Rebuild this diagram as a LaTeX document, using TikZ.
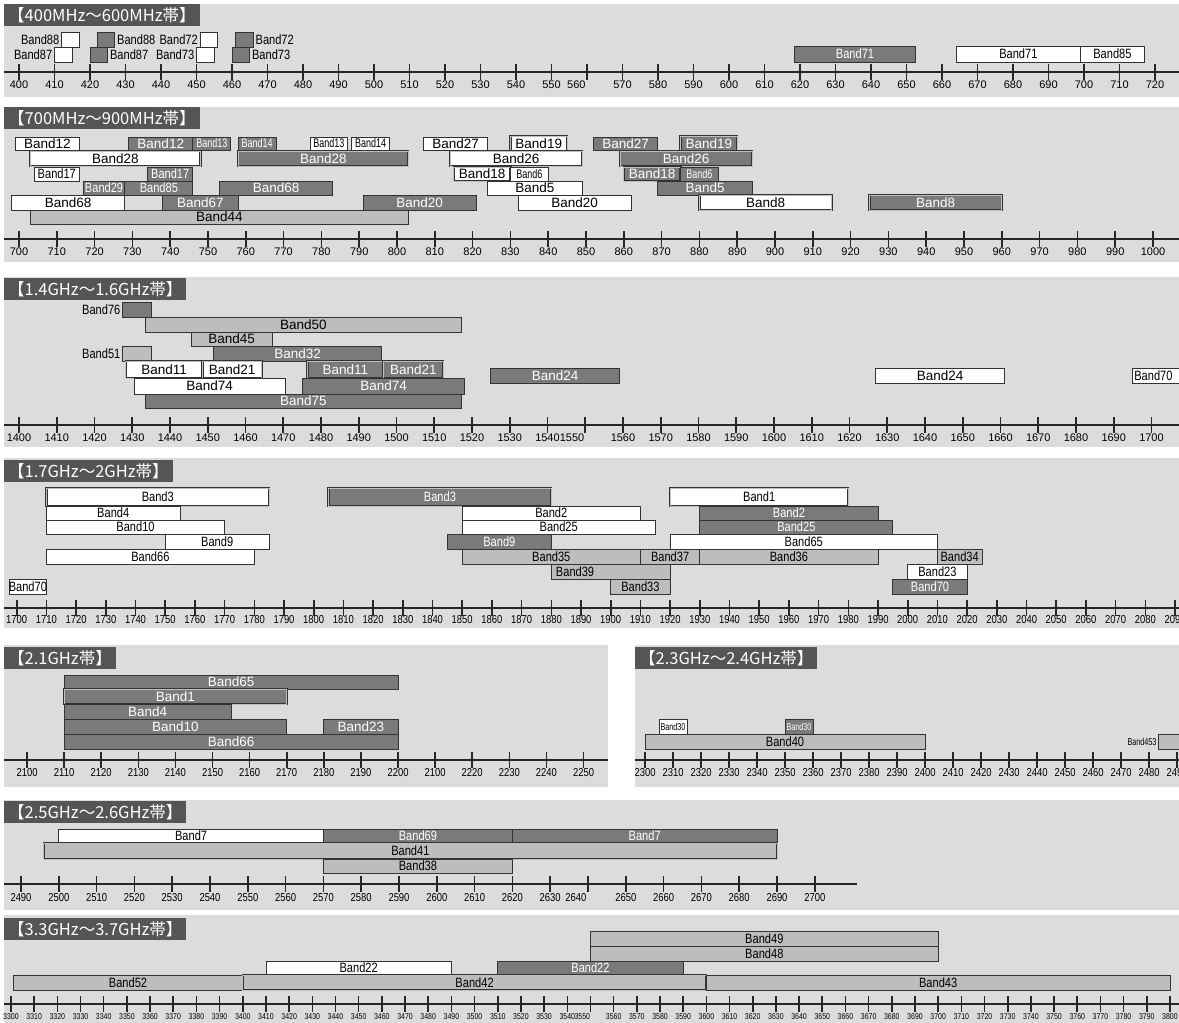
\documentclass[tikz,border=0pt]{standalone}
\usepackage{fontspec}
\setmainfont{Liberation Sans}
\newfontfamily\cjkfont{Noto Sans CJK JP}
\newfontfamily\condfont[FakeStretch=0.82]{Liberation Sans}
\newfontfamily\narrowfont[FakeStretch=0.72]{Liberation Sans}
\newcommand{\bigf}{\fontsize{13.5}{14}\selectfont}
\newcommand{\condf}{\condfont\fontsize{13.5}{14}\selectfont}
\newcommand{\narf}{\narrowfont\fontsize{12.5}{13}\selectfont}
\newcommand{\tinynar}{\narrowfont\fontsize{10}{11}\selectfont}
\newcommand{\numf}{\fontsize{11}{12}\selectfont}
\newcommand{\numcf}{\condfont\fontsize{11.5}{12}\selectfont}
\newcommand{\tinyf}{\condfont\fontsize{8.5}{9}\selectfont}
\newcommand{\titlef}{\cjkfont\fontsize{16.5}{17}\selectfont}
\definecolor{panelgray}{HTML}{DCDCDE}
\definecolor{tabgray}{HTML}{555555}
\definecolor{bandark}{HTML}{7A7A7A}
\definecolor{bandlight}{HTML}{BDBDBD}
\definecolor{edge}{HTML}{333333}
\tikzset{
  panel/.style={fill=panelgray},
  titletab/.style={fill=tabgray, text=white, font=\titlef, anchor=north west,
    inner xsep=4pt, inner ysep=0pt, minimum height=22pt},
  axisline/.style={line width=1.4pt, draw=black!85},
  tickmark/.style={line width=1.6pt, draw=black!85},
  ticklabel/.style={font=\numf, inner sep=0pt},
  bandlab/.style={font=\bigf},
  wbox/.style={draw=edge, fill=white, line width=0.9pt},
  dbox/.style={draw=edge, fill=bandark, line width=0.9pt},
  lbox/.style={draw=edge, fill=bandlight, line width=0.9pt},
  wtxt/.style={bandlab, inner sep=0pt, text=black},
  dtxt/.style={bandlab, inner sep=0pt, text=white},
  ltxt/.style={bandlab, inner sep=0pt, text=black},
  dbl/.style={double=black!25, double distance=0.8pt, line width=0.7pt},
}
% box from f1 to f2 (MHz), rows y1..y2 (px)
\newcommand{\bandrect}[7][]{%
  \draw[#2box,#1] (#3,#5) rectangle (#4,#6);
  \node[#2txt] at ({(#3+#4)/2},{(#5+#6)/2}) {#7};}
\begin{document}
\begin{tikzpicture}[x=1pt,y=-1pt]
\fill[white] (0,0) rectangle (1179,1023);
\useasboundingbox (0,0) rectangle (1179,1023);

% 400MHz - 600MHz
\fill[panel] (4,4) rectangle (1179,97);
\node[titletab] (t400) at (4,4) {【400MHz～600MHz帯】};
\draw[axisline] (4,72) -- (1179,72);
\begin{scope}[xshift=-1401pt, x=3.55pt, bandlab/.style={font=\condf}]
  \foreach \f in {400,410,...,720} \draw[tickmark] (\f,64) -- (\f,80);
  \foreach \f in {400,410,...,550} \node[ticklabel] at (\f,85) {\f};
  \foreach \f in {570,580,...,720} \node[ticklabel] at (\f,85) {\f};
  \node[ticklabel] at (557,85) {560};
  \bandrect{w}{412}{417}{32}{47}{}
  \bandrect{w}{410}{415}{47}{62}{}
  \bandrect{d}{422}{427}{32}{47}{}
  \bandrect{d}{420}{425}{47}{62}{}
  \bandrect{w}{451}{456}{32}{47}{}
  \bandrect{w}{450}{455}{47}{62}{}
  \bandrect{d}{461}{466}{32}{47}{}
  \bandrect{d}{460}{465}{47}{62}{}
  \node[wtxt, anchor=east] at (411.4,39.5) {Band88};
  \node[wtxt, anchor=east] at (409.4,54.5) {Band87};
  \node[wtxt, anchor=west] at (427.6,39.5) {Band88};
  \node[wtxt, anchor=west] at (425.6,54.5) {Band87};
  \node[wtxt, anchor=east] at (450.4,39.5) {Band72};
  \node[wtxt, anchor=east] at (449.4,54.5) {Band73};
  \node[wtxt, anchor=west] at (466.6,39.5) {Band72};
  \node[wtxt, anchor=west] at (465.6,54.5) {Band73};
  \bandrect{d}{618.5}{652.5}{46}{62}{Band71}
  \bandrect{w}{664}{699}{46}{62}{Band71}
  \bandrect{w}{699}{717}{46}{62}{Band85}
\end{scope}

% 700MHz - 900MHz
\fill[panel] (4,107) rectangle (1179,262);
\node[titletab] (t700) at (4,107) {【700MHz～900MHz帯】};
\draw[axisline] (4,239) -- (1179,239);
\begin{scope}[xshift=-2627pt, x=3.78pt]
  \foreach \f in {700,710,...,1000} {
    \draw[tickmark] (\f,231) -- (\f,247);
    \node[ticklabel] at (\f,252) {\f};
  }
  \bandrect{w}{699}{716}{137}{150}{Band12}
  \bandrect{d}{729}{746}{137}{150}{Band12}
  \bandrect{d}{746}{756}{137}{150}{\narf Band13}
  \bandrect{d}{758}{768}{137}{150}{\narf Band14}
  \bandrect{w}{777}{787}{137}{150}{\narf Band13}
  \bandrect{w}{788}{798}{137}{150}{\narf Band14}
  \bandrect{w}{807}{824}{137}{150}{Band27}
  \bandrect[dbl]{w}{830}{845}{136}{151}{Band19}
  \bandrect{d}{852}{869}{137}{150}{Band27}
  \bandrect[dbl]{d}{875}{890}{136}{151}{Band19}
  \bandrect[dbl]{w}{703}{748}{151}{166}{Band28}
  \bandrect[dbl]{d}{758}{803}{151}{166}{Band28}
  \bandrect[dbl]{w}{814}{849}{151}{166}{Band26}
  \bandrect[dbl]{d}{859}{894}{151}{166}{Band26}
  \bandrect{w}{704}{716}{167}{181}{\condf Band17}
  \bandrect{d}{734}{746}{167}{181}{\condf Band17}
  \bandrect[dbl]{w}{815}{830}{167}{181}{Band18}
  \bandrect{w}{830}{840}{167}{181}{\narf Band6}
  \bandrect[dbl]{d}{860}{875}{167}{181}{Band18}
  \bandrect{d}{875}{885}{167}{181}{\narf Band6}
  \bandrect{d}{717}{728}{181}{195}{\condf Band29}
  \bandrect{d}{728}{746}{181}{195}{\condf Band85}
  \bandrect{d}{753}{783}{181}{195}{Band68}
  \bandrect{w}{824}{849}{181}{195}{Band5}
  \bandrect{d}{869}{894}{181}{195}{Band5}
  \bandrect{w}{698}{728}{195}{210}{Band68}
  \bandrect{d}{738}{758}{195}{210}{Band67}
  \bandrect{d}{791}{821}{195}{210}{Band20}
  \bandrect{w}{832}{862}{195}{210}{Band20}
  \bandrect[dbl]{w}{880}{915}{195}{210}{Band8}
  \bandrect[dbl]{d}{925}{960}{195}{210}{Band8}
  \bandrect{l}{703}{803}{210}{224}{Band44}
\end{scope}

% 1.4GHz - 1.6GHz
\fill[panel] (4,277) rectangle (1179,447);
\node[titletab] (t1400) at (4,278) {【1.4GHz～1.6GHz帯】};
\draw[axisline] (4,425) -- (1179,425);
\begin{scope}[xshift=-5266pt, x=3.775pt]
  \foreach \f in {1400,1410,...,1700} \draw[tickmark] (\f,417) -- (\f,433);
  \foreach \f in {1400,1410,...,1540} \node[ticklabel] at (\f,438) {\f};
  \foreach \f in {1560,1570,...,1700} \node[ticklabel] at (\f,438) {\f};
  \node[ticklabel] at (1546.5,438) {1550};
  \bandrect{d}{1427.5}{1435.2}{302}{317}{}
  \node[wtxt, font=\condf, anchor=east] at (1426.9,309.5) {Band76};
  \bandrect{l}{1433.6}{1517.1}{317}{332}{Band50}
  \bandrect{l}{1445.6}{1467.1}{332}{346}{Band45}
  \bandrect{l}{1427.5}{1435.2}{346}{361}{}
  \node[wtxt, font=\condf, anchor=east] at (1426.9,353.5) {Band51};
  \bandrect{d}{1451.5}{1496.1}{346}{361}{Band32}
  \bandrect[dbl]{w}{1428.3}{1448.6}{361}{378}{Band11}
  \bandrect[dbl]{w}{1448.6}{1464.3}{361}{378}{Band21}
  \bandrect[dbl]{d}{1476.4}{1496.5}{361}{378}{Band11}
  \bandrect[dbl]{d}{1496.5}{1512.4}{361}{378}{Band21}
  \bandrect{w}{1430.5}{1470.5}{378}{394}{Band74}
  \bandrect{d}{1475.2}{1518}{378}{394}{Band74}
  \bandrect{d}{1433.6}{1517.1}{394}{408}{Band75}
  \bandrect{d}{1525}{1559}{368}{383}{Band24}
  \bandrect{w}{1627}{1661}{368}{383}{Band24}
  \draw[wbox] (1695,368) rectangle (1712,383);
  \node[wtxt, font=\condf, anchor=west] at (1695.4,375.5) {Band70};
\end{scope}

% 1.7GHz - 2GHz
\fill[panel] (4,458) rectangle (1179,628);
\node[titletab] (t1700) at (4,460) {【1.7GHz～2GHz帯】};
\draw[axisline] (4,608) -- (1179,608);
\begin{scope}[xshift=-5032.3pt, x=2.97pt, bandlab/.style={font=\condf}, ticklabel/.style={font=\numcf, inner sep=0pt}]
  \foreach \f in {1700,1710,...,2090} {
    \draw[tickmark] (\f,600) -- (\f,616);
    \node[ticklabel] at (\f,620) {\f};
  }
  \bandrect[dbl]{w}{1710}{1785}{488}{506}{Band3}
  \bandrect[dbl]{d}{1805}{1880}{488}{506}{Band3}
  \bandrect[dbl]{w}{1920}{1980}{488}{506}{Band1}
  \bandrect{w}{1710}{1755}{506}{520}{Band4}
  \bandrect{w}{1850}{1910}{506}{520}{Band2}
  \bandrect{d}{1930}{1990}{506}{520}{Band2}
  \bandrect{w}{1710}{1770}{520}{534}{Band10}
  \bandrect{w}{1850}{1915}{520}{534}{Band25}
  \bandrect{d}{1930}{1995}{520}{534}{Band25}
  \bandrect{w}{1750}{1785}{534}{549}{Band9}
  \bandrect{d}{1845}{1880}{534}{549}{Band9}
  \bandrect{w}{1920}{2010}{534}{549}{Band65}
  \bandrect{w}{1710}{1780}{549}{564}{Band66}
  \bandrect{l}{1850}{1910}{549}{564}{Band35}
  \bandrect{l}{1910}{1930}{549}{564}{Band37}
  \bandrect{l}{1930}{1990}{549}{564}{Band36}
  \bandrect{l}{2010}{2025}{549}{564}{Band34}
  \draw[lbox] (1880,564) rectangle (1920,579);
  \node[ltxt, anchor=west] at (1881.5,571.5) {Band39};
  \bandrect{w}{2000}{2020}{564}{579}{Band23}
  \bandrect{w}{1697.5}{1710}{579}{594}{Band70}
  \bandrect{l}{1900}{1920}{579}{594}{Band33}
  \bandrect{d}{1995}{2020}{579}{594}{Band70}
\end{scope}

% 2.1GHz
\fill[panel] (4,645) rectangle (608,787);
\node[titletab] (t2100) at (4,647) {【2.1GHz帯】};
\draw[axisline] (4,760) -- (608,760);
\begin{scope}[xshift=-7764pt, x=3.71pt, ticklabel/.style={font=\numcf, inner sep=0pt}]
  \foreach \f in {2100,2110,...,2250} \draw[tickmark] (\f,752) -- (\f,768);
  \foreach \f in {2100,2110,...,2200} \node[ticklabel] at (\f,773) {\f};
  \node[ticklabel] at (2210,773) {2100};
  \foreach \f in {2220,2230,...,2250} \node[ticklabel] at (\f,773) {\f};
  \bandrect{d}{2110}{2200}{675}{689}{Band65}
  \bandrect[dbl]{d}{2110}{2170}{689}{704}{Band1}
  \bandrect{d}{2110}{2155}{704}{719}{Band4}
  \bandrect{d}{2110}{2170}{719}{734}{Band10}
  \bandrect{d}{2180}{2200}{719}{734}{Band23}
  \bandrect{d}{2110}{2200}{734}{749}{Band66}
\end{scope}

% 2.3GHz - 2.4GHz
\fill[panel] (635,645) rectangle (1179,787);
\node[titletab] (t2300) at (635,647) {【2.3GHz～2.4GHz帯】};
\draw[axisline] (635,760) -- (1179,760);
\begin{scope}[xshift=-5795pt, x=2.8pt, bandlab/.style={font=\condf}, ticklabel/.style={font=\numcf, inner sep=0pt}]
  \foreach \f in {2300,2310,...,2490} {
    \draw[tickmark] (\f,752) -- (\f,768);
    \node[ticklabel] at (\f,773) {\f};
  }
  \bandrect{w}{2305}{2315}{719}{734}{\tinynar Band30}
  \bandrect{d}{2350}{2360}{719}{734}{\tinynar Band30}
  \bandrect{l}{2300}{2400}{734}{749}{Band40}
  \draw[lbox] (2483.5,734) rectangle (2500,749);
  \node[ltxt, font=\tinynar, anchor=east] at (2482.7,741.5) {Band453};
\end{scope}

% 2.5GHz - 2.6GHz
\fill[panel] (4,800) rectangle (1179,910);
\node[titletab] (t2500) at (4,801) {【2.5GHz～2.6GHz帯】};
\draw[axisline] (4,884) -- (857,884);
\begin{scope}[xshift=-9391.2pt, x=3.78pt, bandlab/.style={font=\condf}, ticklabel/.style={font=\numcf, inner sep=0pt}]
  \foreach \f in {2490,2500,...,2700} \draw[tickmark] (\f,876) -- (\f,892);
  \foreach \f in {2490,2500,...,2630} \node[ticklabel] at (\f,898) {\f};
  \foreach \f in {2650,2660,...,2700} \node[ticklabel] at (\f,898) {\f};
  \node[ticklabel] at (2636.8,898) {2640};
  \bandrect{w}{2500}{2570}{829}{843}{Band7}
  \bandrect{d}{2570}{2620}{829}{843}{Band69}
  \bandrect{d}{2620}{2690}{829}{843}{Band7}
  \bandrect[dbl]{l}{2496}{2690}{843}{859}{Band41}
  \bandrect{l}{2570}{2620}{859}{873}{Band38}
\end{scope}

% 3.3GHz - 3.7GHz
\fill[panel] (4,915) rectangle (1179,1023);
\node[titletab] (t3300) at (4,918) {【3.3GHz～3.7GHz帯】};
\draw[axisline] (4,1004) -- (1179,1004);
\begin{scope}[xshift=-7638.4pt, x=2.318pt, bandlab/.style={font=\condf}, ticklabel/.style={font=\tinyf, inner sep=0pt}]
  \foreach \f in {3300,3310,...,3800} \draw[tickmark] (\f,996) -- (\f,1012);
  \foreach \f in {3300,3310,...,3540} \node[ticklabel] at (\f,1017) {\f};
  \foreach \f in {3560,3570,...,3800} \node[ticklabel] at (\f,1017) {\f};
  \node[ticklabel] at (3546.5,1017) {3550};
  \bandrect{l}{3550}{3700}{931}{946}{Band49}
  \bandrect{l}{3550}{3700}{946}{961}{Band48}
  \bandrect{w}{3410}{3490}{961}{975}{Band22}
  \bandrect{d}{3510}{3590}{961}{975}{Band22}
  \bandrect{l}{3301}{3400}{975}{990}{Band52}
  \bandrect[dbl]{l}{3400}{3600}{975}{990}{Band42}
  \bandrect{l}{3600}{3800}{975}{990}{Band43}
\end{scope}
\end{tikzpicture}
\end{document}
